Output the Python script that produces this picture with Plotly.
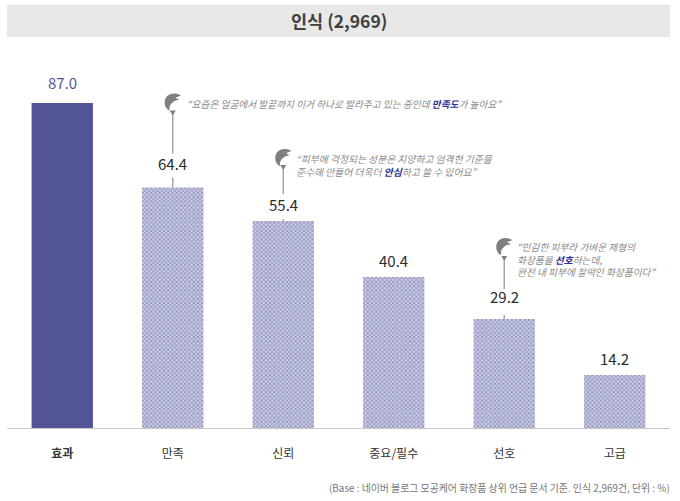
import plotly.graph_objects as go

categories = ["효과", "만족", "신뢰", "중요/필수", "선호", "고급"]
values = [87.0, 64.4, 55.4, 40.4, 29.2, 14.2]
title = "인식 (2,969)"
footnote = "(Base : 네이버 블로그 모공케어 화장품 상위 언급 문서 기준. 인식 2,969건, 단위 : %)"
HL = "<b><span style='color:#2f3192'>%s</span></b>"
quote_manjok = ["\u201c요즘은 얼굴에서 발끝까지 이거 하나로 발라주고 있는 중인데 " + HL % "만족도" + "가 높아요\u201d"]
quote_sinroe = ["\u201c피부에 걱정되는 성분은 지양하고 엄격한 기준을",
                "준수해 만들어 더욱더 " + HL % "안심" + "하고 쓸 수 있어요\u201d"]
quote_seonho = ["\u201c민감한 피부라 가벼운 제형의",
                "화장품을 " + HL % "선호" + "하는데,",
                "완전 내 피부에 찰떡인 화장품이다\u201d"]

FONT = "Noto Sans CJK KR"
DARK, LIGHT = "#525497", "#c6c8ee"
GREY = "#a8a8a8"

fig = go.Figure(go.Bar(
    x=categories, y=values, width=0.555,
    marker=dict(
        color=[DARK] + [LIGHT] * 5,
        line=dict(width=0),
        pattern=dict(shape=[""] + ["x"] * 5, fgcolor="#8587cc",
                     size=3, solidity=0.4, fillmode="overlay"),
    ),
    hoverinfo="skip",
))

shapes = [dict(type="rect", xref="paper", yref="paper", x0=0.0, x1=1.0, y0=1.0079, y1=1.0909,
               fillcolor="#e8e8e8", line=dict(width=0), layer="below")]
annotations = [
    dict(text=f"<b>{title}</b>", xref="paper", yref="paper", x=0.5, y=1.0490, showarrow=False,
         font=dict(size=17.5, color="#404040", family=FONT), yanchor="middle", xanchor="center"),
    dict(text=footnote, xref="paper", yref="paper", x=1.0, y=-0.154, xshift=2, showarrow=False,
         xanchor="right", yanchor="middle", font=dict(size=9.9, color="#777777", family=FONT)),
]

label_shift = [20, 24, 17, 17, 22, 16]
for i, (c, v) in enumerate(zip(categories, values)):
    annotations.append(dict(text=f"{v:.1f}", x=c, y=v, yshift=label_shift[i], showarrow=False,
                            xanchor="center", yanchor="middle",
                            font=dict(size=15, color=DARK if i == 0 else "#2b2b2b", family=FONT)))

# callouts: category index, lower stem top, upper stem start/end, icon centre, first text line y, text x (px from bar)
callouts = [(1, 10, 34, 74, 85, 83, 13, 9.7, quote_manjok),
            (2, 2, 27, 53, 63, 62, 12, 9.8, quote_sinroe),
            (4, 4, 30, 60, 72, 71, 12, 9.7, quote_seonho)]
for idx, low, up0, up1, icon, text_y, tx, fs, lines in callouts:
    c, v = categories[idx], values[idx]
    base = dict(type="line", xref="x", yref="y", x0=c, x1=c, ysizemode="pixel", yanchor=v,
                line=dict(color=GREY, width=1.5))
    shapes.append({**base, "y0": 0, "y1": low})
    shapes.append({**base, "y0": up0, "y1": up1})
    shapes.append(dict(type="path", xref="x", yref="y", xsizemode="pixel", ysizemode="pixel",
                       xanchor=c, yanchor=v, fillcolor="#7f7f7f", line=dict(width=0),
                       path=f"M -3,{up1+3} L 3,{up1+3} L 0,{up1-2} Z"))
    i0 = icon
    shapes.append(dict(type="path", xref="x", yref="y", xsizemode="pixel", ysizemode="pixel",
                       xanchor=c, yanchor=v, fillcolor="#7f7f7f", line=dict(width=0),
                       path=(f"M 8,{i0+7} C 2,{i0+11} -8,{i0+9} -8,{i0} C -8,{i0-4} -6,{i0-7} -3,{i0-8} "
                             f"C -4,{i0-4} -2,{i0-1} 0,{i0} C 1,{i0+2} 4,{i0+2} 7,{i0+3} "
                             f"C 5,{i0+3} 4,{i0+4} 3,{i0+5} C 5,{i0+6} 7,{i0+6} 8,{i0+7} Z")))
    text = "<br>".join(f"<i>{line}</i>" for line in lines)
    annotations.append(dict(text=text, x=c, y=v, xshift=tx - 1, yshift=text_y - 6 * (len(lines) - 1),
                            showarrow=False, xanchor="left", yanchor="middle", align="left",
                            font=dict(size=fs, color="#8a8a8a", family=FONT)))

ticktext = [f"<b>{c}</b>" if i == 0 else c for i, c in enumerate(categories)]
fig.update_layout(
    width=680, height=501, autosize=False,
    paper_bgcolor="white", plot_bgcolor="white", showlegend=False,
    margin=dict(l=7.4, r=10.2, t=40, b=73),
    bargap=0.45,
    font=dict(family=FONT),
    shapes=shapes, annotations=annotations,
    xaxis=dict(type="category", tickmode="array", tickvals=categories, ticktext=ticktext,
               showline=True, linecolor="#c8c8c8", linewidth=1, ticks="outside", ticklen=15,
               tickcolor="rgba(0,0,0,0)", tickfont=dict(size=12, color="#333333", family=FONT),
               showgrid=False, zeroline=False, fixedrange=True),
    yaxis=dict(range=[0, 103.85], visible=False, showgrid=False, zeroline=False, fixedrange=True),
)
fig.write_html("out.html", config={"displayModeBar": False},
               post_script="document.body.style.margin='0';")
